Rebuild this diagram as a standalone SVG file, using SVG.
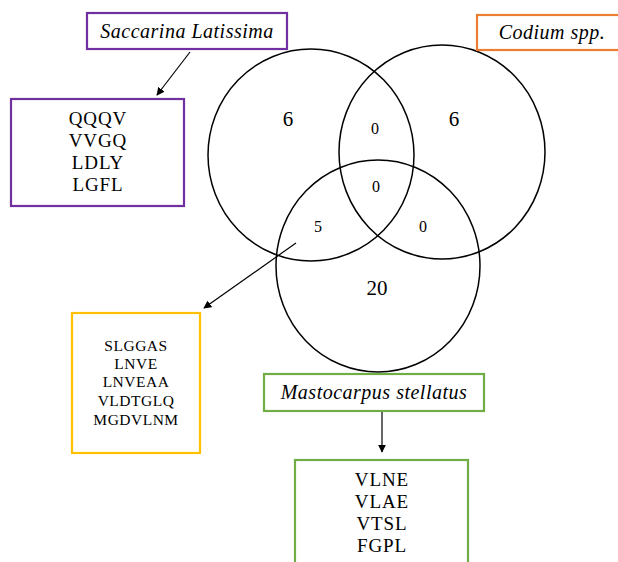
<svg xmlns="http://www.w3.org/2000/svg" width="618" height="562" viewBox="0 0 618 562">
  <style>
    .t { font-family: "Liberation Serif", "DejaVu Serif", serif; fill: #000; text-anchor: middle; }
    .sp { font-style: italic; font-size: 20px; letter-spacing: 0.5px; }
    .seq { font-size: 19px; letter-spacing: 0.9px; }
    .seqs { font-size: 15.5px; letter-spacing: 0.5px; }
    .big { font-size: 21px; }
    .small { font-size: 16px; }
    .box { fill: #fff; stroke-width: 2.2; }
    .ring { fill: none; stroke: #000; stroke-width: 1.5; }
    .link { stroke: #000; stroke-width: 1.2; fill: none; marker-end: url(#arr); }
  </style>
  <defs>
    <marker id="arr" viewBox="0 0 10 10" refX="9" refY="5" markerWidth="8" markerHeight="8" markerUnits="userSpaceOnUse" orient="auto">
      <path d="M0,0 L10,5 L0,10 z" fill="#000"/>
    </marker>
  </defs>
  <rect width="618" height="562" fill="#fff"/>

  <!-- Venn circles -->
  <g id="venn">
    <ellipse class="ring" cx="311" cy="155" rx="103" ry="106"/>
    <ellipse class="ring" cx="442" cy="152" rx="103" ry="107"/>
    <ellipse class="ring" cx="378" cy="266" rx="102" ry="106"/>
    <text class="t big" x="288" y="126">6</text>
    <text class="t big" x="454" y="126">6</text>
    <text class="t small" x="375" y="134">0</text>
    <text class="t small" x="376" y="192">0</text>
    <text class="t small" x="318" y="232">5</text>
    <text class="t small" x="423" y="232">0</text>
    <text class="t big" x="377" y="295">20</text>
  </g>

  <!-- connectors -->
  <g id="connectors">
    <line class="link" x1="190" y1="52" x2="157" y2="95"/>
    <line class="link" x1="296" y1="243" x2="204" y2="308"/>
    <line class="link" x1="382" y1="411" x2="382" y2="452"/>
  </g>

  <g id="saccarina">
    <rect class="box" x="87" y="13" width="200" height="36" stroke="#7030A0"/>
    <text class="t sp" x="187" y="38">Saccarina Latissima</text>
  </g>

  <g id="codium">
    <rect class="box" x="477" y="15" width="150" height="35" stroke="#ED7D31"/>
    <text class="t sp" x="552" y="39">Codium spp.</text>
  </g>

  <g id="mastocarpus">
    <rect class="box" x="264" y="374" width="220" height="37" stroke="#70AD47"/>
    <text class="t sp" x="374" y="399">Mastocarpus stellatus</text>
  </g>

  <g id="saccarina-seqs">
    <rect class="box" x="11" y="99" width="173" height="107" stroke="#7030A0"/>
    <text class="t seq" x="98" y="125">QQQV</text>
    <text class="t seq" x="98" y="147">VVGQ</text>
    <text class="t seq" x="98" y="169">LDLY</text>
    <text class="t seq" x="98" y="191">LGFL</text>
  </g>

  <g id="shared-seqs">
    <rect class="box" x="72" y="313" width="128" height="140" stroke="#FFC000"/>
    <text class="t seqs" x="136" y="351">SLGGAS</text>
    <text class="t seqs" x="136" y="369">LNVE</text>
    <text class="t seqs" x="136" y="387">LNVEAA</text>
    <text class="t seqs" x="136" y="406">VLDTGLQ</text>
    <text class="t seqs" x="136" y="425">MGDVLNM</text>
  </g>

  <g id="mastocarpus-seqs">
    <rect class="box" x="295" y="460" width="173" height="120" stroke="#70AD47"/>
    <text class="t seq" x="382" y="486">VLNE</text>
    <text class="t seq" x="382" y="508">VLAE</text>
    <text class="t seq" x="382" y="530">VTSL</text>
    <text class="t seq" x="382" y="552">FGPL</text>
  </g>
</svg>
